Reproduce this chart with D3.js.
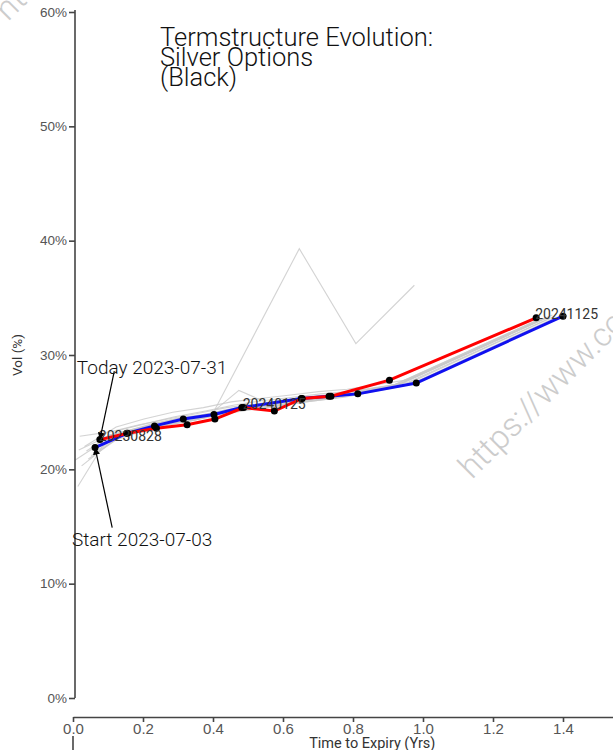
<!DOCTYPE html>
<html>
<head>
<meta charset="utf-8">
<script src="https://cdn.jsdelivr.net/npm/d3@7"></script>
<style>
  body { margin: 0; background: #fff; overflow: hidden; }
  svg { display: block; font-family: Roboto, "Noto Sans", sans-serif; }
</style>
</head>
<body>
<div id="chart"></div>
<script>
// option expiries (x axis is time from curve date to these)
const expiries = ["2023-07-26", "2023-08-28", "2023-09-26", "2023-10-26", "2023-11-27", "2023-12-26",
  "2024-01-25", "2024-02-26", "2024-03-26", "2024-04-25", "2024-06-25", "2024-11-25"];

const startDate = "2023-07-03";
const todayDate = "2023-07-31";

// ATM vols (%) per expiry, null = no quote
const startVols = [21.9, 23.15, 23.8, 24.4, 24.8, 25.4, null, 26.2, 26.4, 26.6, 27.55, 33.4];
const todayVols = [null, 22.6, 23.15, 23.6, 23.9, 24.4, 25.4, 25.1, 26.2, 26.4, 27.8, 33.25];

// intermediate days, drawn in grey
const greyDates = ["2023-07-05", "2023-07-06", "2023-07-07", "2023-07-10", "2023-07-12", "2023-07-14",
  "2023-07-17", "2023-07-19", "2023-07-20", "2023-07-21", "2023-07-24", "2023-07-26", "2023-07-28"];
const greyVols = [
  [21.4, 23.3, 24.0, 24.5, 24.75, null, null, 39.3, null, 31.0, 36.1, null],
  [21.7, 23.2, 23.9, 24.5, 24.9, 26.9, 25.8, 26.2, 26.4, 26.6, 27.5, 33.4],
  [21.2, 23.0, 23.7, 24.3, 24.9, 25.4, 25.8, 26.1, 26.4, 26.6, 27.5, 33.3],
  [20.9, 22.8, 23.5, 24.1, 24.6, 25.2, 25.6, 26.0, 26.3, 26.5, 27.4, 33.3],
  [21.6, 23.4, 24.0, 24.6, 25.1, 25.6, 26.0, 26.3, 26.6, 26.8, 27.6, 33.4],
  [22.0, 23.7, 24.4, 25.0, 25.4, 25.9, 26.2, 26.5, 26.8, 27.0, 27.8, 33.5],
  [20.3, 22.5, 23.3, 23.9, 24.4, 24.9, 25.3, 25.7, 26.0, 26.3, 27.3, 33.2],
  [22.9, 23.3, 23.9, 24.4, 24.9, 25.4, 25.7, 26.1, 26.4, 26.6, 27.5, 33.3],
  [21.7, 23.0, 23.6, 24.1, 24.6, 25.2, 25.6, 26.0, 26.3, 26.5, 27.5, 33.3],
  [18.5, 23.0, 23.6, 24.1, 24.5, 25.0, 25.4, 25.8, 26.1, 26.4, 27.4, 33.2],
  [20.8, 22.6, 23.3, 23.9, 24.3, 24.9, 25.3, 25.7, 26.0, 26.3, 27.3, 33.2],
  [null, 22.8, 23.4, 23.9, 24.3, 24.9, 25.3, 25.6, 26.0, 26.3, 27.4, 33.2],
  [null, 22.6, 23.3, 23.8, 24.2, 24.8, 25.2, 25.5, 25.9, 26.2, 27.3, 33.1]
];

// expiries labelled on today's curve
const labelExpiries = ["2023-08-28", "2024-01-25", "2024-11-25"];

const xTicks = [0, 0.2, 0.4, 0.6, 0.8, 1.0, 1.2, 1.4, 1.6];
const yTicks = [0, 10, 20, 30, 40, 50, 60];

const width = 613, height = 750;

const svg = d3.select("#chart").append("svg")
  .attr("width", width)
  .attr("height", height);

const x = d3.scaleLinear().domain([0, 1.7]).range([73, 668]);
const y = d3.scaleLinear().domain([0, 60]).range([698, 12]);

const parse = d3.timeParse("%Y-%m-%d");
const yearFrac = (from, to) => (parse(to) - parse(from)) / (365 * 864e5);

function curve(date, vols) {
  return expiries.map((e, i) => ({ expiry: e, t: yearFrac(date, e), v: vols[i] }))
    .filter(d => d.v != null && d.t > 0);
}

const line = d3.line()
  .x(d => x(d.t))
  .y(d => y(d.v));

// grey history
svg.append("g")
  .selectAll("path")
  .data(greyDates.map((d, i) => curve(d, greyVols[i])))
  .enter()
  .append("path")
  .attr("d", line)
  .attr("fill", "none")
  .attr("stroke", "#c8c8c8")
  .attr("stroke-opacity", 0.8)
  .attr("stroke-width", 1.1);

const startCurve = curve(startDate, startVols);
const todayCurve = curve(todayDate, todayVols);

svg.append("path")
  .datum(startCurve)
  .attr("d", line)
  .attr("fill", "none")
  .attr("stroke", "#1010f0")
  .attr("stroke-width", 3);

svg.append("path")
  .datum(todayCurve)
  .attr("d", line)
  .attr("fill", "none")
  .attr("stroke", "#ff0000")
  .attr("stroke-width", 3);

svg.append("g")
  .selectAll("circle")
  .data(startCurve.concat(todayCurve))
  .enter()
  .append("circle")
  .attr("cx", d => x(d.t))
  .attr("cy", d => y(d.v))
  .attr("r", 3.5)
  .attr("fill", "#000");

// expiry labels
svg.append("g")
  .selectAll("text")
  .data(todayCurve.filter(d => labelExpiries.includes(d.expiry)))
  .enter()
  .append("text")
  .attr("x", d => x(d.t) - 1)
  .attr("y", d => y(d.v) + 1)
  .style("font-size", "14px")
  .style("fill", "#333")
  .text(d => d.expiry.replace(/-/g, ""));

// y axis
const yAxis = svg.append("g")
  .attr("transform", "translate(75,0)")
  .call(d3.axisLeft(y).tickValues(yTicks).tickFormat(d => d + "%").tickSize(6).tickSizeOuter(0));
yAxis.select(".domain").attr("d", "M0,10V698").attr("stroke", "#444").attr("stroke-width", 1.6);
yAxis.selectAll(".tick line").attr("stroke", "#444").attr("stroke-width", 1.6);
yAxis.selectAll("text").style("font-size", "13.5px").style("fill", "#555").attr("x", -8);

svg.append("text")
  .attr("transform", "translate(22,355) rotate(-90)")
  .attr("text-anchor", "middle")
  .style("font-size", "13.5px")
  .style("fill", "#333")
  .text("Vol (%)");

// x axis
const xAxis = svg.append("g")
  .attr("transform", "translate(0,717)")
  .call(d3.axisBottom(x).tickValues(xTicks).tickFormat(d3.format(".1f")).tickSize(5).tickSizeOuter(0));
xAxis.select(".domain").attr("stroke", "#444").attr("stroke-width", 1.6);
xAxis.selectAll(".tick line").attr("stroke", "#444").attr("stroke-width", 1.6);
xAxis.selectAll("text").style("font-size", "15px").style("fill", "#555").attr("y", 6);

svg.append("line")
  .attr("x1", x(0)).attr("x2", x(0))
  .attr("y1", 736).attr("y2", 750)
  .attr("stroke", "#444")
  .attr("stroke-width", 1.6);

svg.append("text")
  .attr("x", x(0.855))
  .attr("y", 748)
  .attr("text-anchor", "middle")
  .style("font-size", "14.5px")
  .style("fill", "#333")
  .text("Time to Expiry (Yrs)");

// title
const title = svg.append("text")
  .attr("x", 160)
  .attr("y", 46)
  .style("font-size", "25.5px")
  .style("font-weight", 300)
  .style("fill", "#111");
["Termstructure Evolution:", "Silver Options", "(Black)"].forEach((s, i) => {
  title.append("tspan").attr("x", 160).attr("dy", i === 0 ? 0 : 20).text(s);
});

// annotations
svg.append("defs").append("marker")
  .attr("id", "arrow")
  .attr("viewBox", "0 0 10 10")
  .attr("refX", 10).attr("refY", 5)
  .attr("markerWidth", 7).attr("markerHeight", 7)
  .attr("markerUnits", "userSpaceOnUse")
  .attr("orient", "auto")
  .append("path")
  .attr("d", "M0,0L10,5L0,10z")
  .attr("fill", "#000");

const notes = [
  { text: "Today " + todayDate, tx: 0.011, ty: 28.35, ax: 0.118, ay: 28.6, pt: todayCurve[0] },
  { text: "Start " + startDate, tx: -0.003, ty: 13.3, ax: 0.112, ay: 14.9, pt: startCurve[0] }
];

notes.forEach(n => {
  svg.append("line")
    .attr("x1", x(n.ax)).attr("y1", y(n.ay))
    .attr("x2", x(n.pt.t)).attr("y2", y(n.pt.v))
    .attr("stroke", "#000")
    .attr("stroke-width", 1.2)
    .attr("marker-end", "url(#arrow)");
  svg.append("text")
    .attr("x", x(n.tx))
    .attr("y", y(n.ty))
    .style("font-size", "19px")
    .style("font-weight", 300)
    .style("fill", "#111")
    .text(n.text);
});

// watermark
[[472, 480], [8, 22]].forEach(p => {
  svg.append("text")
    .attr("transform", `translate(${p[0]},${p[1]}) rotate(-45)`)
    .style("font-size", "33px")
    .style("font-weight", 300)
    .style("fill", "#c4c4c4")
    .style("opacity", 0.85)
    .text("https://www.codeandfinance.com");
});
</script>
</body>
</html>
